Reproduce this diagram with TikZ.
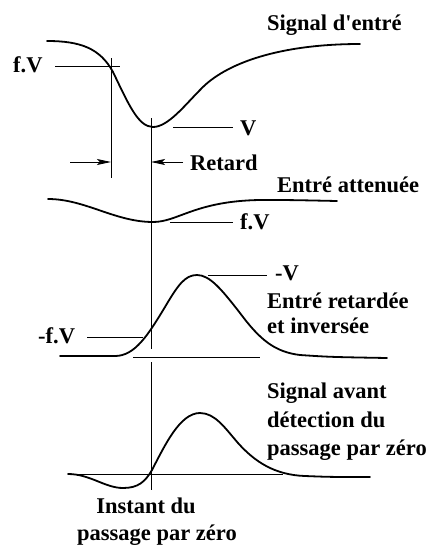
\documentclass[tikz,border=0pt]{standalone}
\usepackage{fontspec}
\setmainfont{Liberation Serif}
\usetikzlibrary{arrows.meta}
\begin{document}
\begin{tikzpicture}[x=1pt,y=-1pt,
  sig/.style={line width=1.8pt,line cap=round},
  thin/.style={line width=0.9pt},
  lbl/.style={font=\bfseries\fontsize{22.5}{26}\selectfont,inner sep=0pt,anchor=base west},
  arr/.style={thin,-{Stealth[length=14pt,width=6pt,inset=3pt]}}]
\useasboundingbox (0,0) rectangle (442,549);
% curve 1: input signal
\draw[sig] (47,41) .. controls (80,41) and (100,48) .. (113,72)
  .. controls (128,103) and (138,127) .. (153,127)
  .. controls (168,127) and (185,105) .. (200,90)
  .. controls (225,63) and (280,44) .. (360,44);
% curve 2: attenuated
\draw[sig] (48,199) .. controls (85,199) and (115,222) .. (153,222)
  .. controls (178,222) and (195,201) .. (260,200)
  .. controls (290,200) .. (337,201);
% curve 3: delayed and inverted
\draw[sig] (60,356) -- (115,356) .. controls (135,356) and (148,335) .. (165,307)
  .. controls (178,285) and (185,275) .. (197,275)
  .. controls (210,275) and (222,290) .. (240,313)
  .. controls (260,340) and (275,352) .. (300,355)
  .. controls (330,357) .. (387,358);
% curve 4: sum
\draw[sig] (68,474) .. controls (90,474) and (105,488) .. (123,488)
  .. controls (138,488) and (145,482) .. (152,470)
  .. controls (165,445) and (180,413) .. (200,413)
  .. controls (215,413) and (225,428) .. (238,443)
  .. controls (255,462) and (275,475) .. (305,476)
  .. controls (330,477) .. (370,477);

% vertical lines
\coordinate (v1t) at (151,118);
\coordinate (v1m) at (151,349);
\coordinate (v1n) at (151,362);
\coordinate (v1b) at (151,490);
\draw[thin] (v1t) -- (v1m);
\draw[thin] (v1n) -- (v1b);
\coordinate (v2t) at (111,58);
\coordinate (v2b) at (111,178);
\draw[thin] (v2t) -- (v2b);

% labels
\node[lbl] (s1) at (267,30) {Signal d\textquotesingle entré};
\node[lbl] (fv1) at (13,72) {f.V};
\coordinate (fv1a) at (55,66); \coordinate (fv1b) at (120,66);
\draw[thin] (fv1a) -- (fv1b);
\node[lbl] (v) at (240,135) {V};
\coordinate (va) at (173,127); \coordinate (vb) at (233,127);
\draw[thin] (va) -- (vb);
\node[lbl] (ret) at (190,170) {Retard};
\coordinate (ra) at (70,162); \coordinate (rb) at (111,162);
\coordinate (rc) at (183,162); \coordinate (rd) at (151,162);
\draw[arr] (ra) -- (rb);
\draw[arr] (rc) -- (rd);
\node[lbl] (att) at (277,192) {Entré attenuée};
\node[lbl] (fv2) at (240,229) {f.V};
\coordinate (fv2a) at (170,222); \coordinate (fv2b) at (233,222);
\draw[thin] (fv2a) -- (fv2b);
\node[lbl] (mv) at (275,280) {-V};
\coordinate (mva) at (208,275); \coordinate (mvb) at (267,275);
\draw[thin] (mva) -- (mvb);
\node[lbl] (ret2a) at (267,308) {Entré retardée};
\node[lbl] (ret2b) at (267,333) {et inversée};
\node[lbl] (mfv) at (38,343) {-f.V};
\coordinate (mfva) at (87,337); \coordinate (mfvb) at (143,337);
\draw[thin] (mfva) -- (mfvb);
\coordinate (b3a) at (133,357); \coordinate (b3b) at (260,357);
\draw[thin] (b3a) -- (b3b);
\coordinate (z4a) at (70,474); \coordinate (z4b) at (283,474);
\draw[thin] (z4a) -- (z4b);
\node[lbl] (sava) at (267,398) {Signal avant};
\node[lbl] (savb) at (267,427) {détection du};
\node[lbl] (savc) at (267,455) {passage par zéro};
\node[lbl,anchor=base] (insta) at (146,513) {Instant du};
\node[lbl,anchor=base] (instb) at (157,540) {passage par zéro};
\end{tikzpicture}
\end{document}
